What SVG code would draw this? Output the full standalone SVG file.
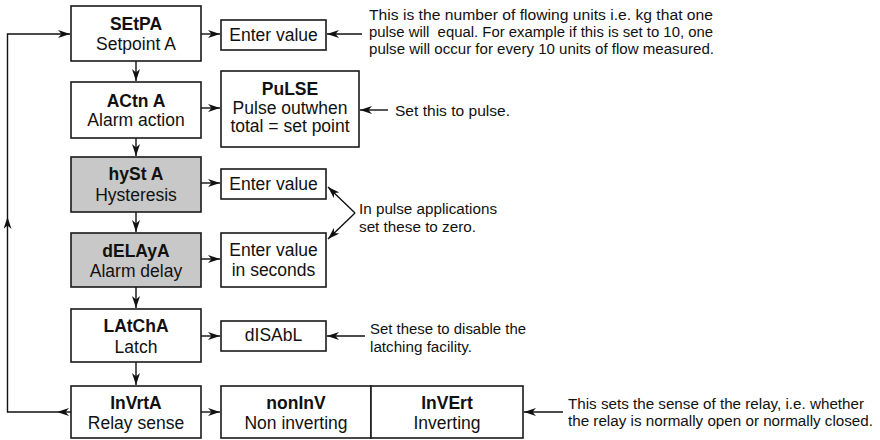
<svg xmlns="http://www.w3.org/2000/svg" width="880" height="440" viewBox="0 0 880 440">
  <style>
    .box { fill: #ffffff; stroke: #1a1a1a; stroke-width: 1.6; }
    .grey { fill: #c8c8c8; }
    .lbl { font-family: "Liberation Sans", Arial, Helvetica, sans-serif; font-size: 17.5px; fill: #111; text-anchor: middle; }
    .b { font-weight: bold; }
    .note { font-family: "Liberation Sans", Arial, Helvetica, sans-serif; font-size: 15.2px; fill: #111; }
    .con { fill: none; stroke: #111; stroke-width: 1.4; marker-end: url(#ah); }
  </style>
  <defs>
    <marker id="ah" viewBox="0 0 12 8" refX="12" refY="4" markerWidth="12" markerHeight="8" markerUnits="userSpaceOnUse" orient="auto">
      <path d="M0,0 L12,4 L0,8 L3.5,4 Z" fill="#111"/>
    </marker>
  </defs>
  <rect width="880" height="440" fill="#ffffff"/>

  <g id="connectors">
    <!-- vertical flow -->
    <path class="con" d="M136,61 V81"/>
    <path class="con" d="M136,138 V156"/>
    <path class="con" d="M136,212 V232"/>
    <path class="con" d="M136,287 V308"/>
    <path class="con" d="M136,362 V385"/>
    <!-- horizontal to options -->
    <path class="con" d="M201,34 H220"/>
    <path class="con" d="M201,108 H220"/>
    <path class="con" d="M201,183 H220"/>
    <path class="con" d="M201,259 H220"/>
    <path class="con" d="M201,336 H220"/>
    <path class="con" d="M201,412 H220"/>
    <!-- loop back -->
    <path class="con" d="M71,412 H57"/>
    <path class="con" d="M57,412 H7.5 V217"/>
    <path class="con" d="M7.5,217 V34 H70"/>
    <!-- annotation pointers -->
    <path class="con" d="M362,34 H327"/>
    <path class="con" d="M388,110 H360"/>
    <path class="con" d="M355,213 L328,187"/>
    <path class="con" d="M355,213 L328,239"/>
    <path class="con" d="M365,336 H327"/>
    <path class="con" d="M563,412 H524"/>
  </g>

  <g id="n-setpa">
    <rect class="box" x="71" y="6" width="130" height="55"/>
    <text class="lbl b" x="136" y="29.5">SEtPA</text>
    <text class="lbl" x="136" y="50">Setpoint A</text>
  </g>
  <g id="n-actna">
    <rect class="box" x="71" y="82" width="130" height="56"/>
    <text class="lbl b" x="136" y="106.5">ACtn A</text>
    <text class="lbl" x="136" y="126">Alarm action</text>
  </g>
  <g id="n-hysta">
    <rect class="box grey" x="71" y="157" width="130" height="55"/>
    <text class="lbl b" x="136" y="180">hySt A</text>
    <text class="lbl" x="136" y="201">Hysteresis</text>
  </g>
  <g id="n-delaya">
    <rect class="box grey" x="71" y="233" width="130" height="54"/>
    <text class="lbl b" x="136" y="256.5">dELAyA</text>
    <text class="lbl" x="136" y="276.5">Alarm delay</text>
  </g>
  <g id="n-latcha">
    <rect class="box" x="71" y="309" width="130" height="53"/>
    <text class="lbl b" x="136" y="331.5">LAtChA</text>
    <text class="lbl" x="136" y="352.5">Latch</text>
  </g>
  <g id="n-invrta">
    <rect class="box" x="71" y="386" width="130" height="52"/>
    <text class="lbl b" x="136" y="408.5">InVrtA</text>
    <text class="lbl" x="136" y="429">Relay sense</text>
  </g>

  <g id="n-enter1">
    <rect class="box" x="221" y="20" width="105" height="30"/>
    <text class="lbl" x="273.5" y="41">Enter value</text>
  </g>
  <g id="n-pulse">
    <rect class="box" x="221" y="71" width="138" height="76"/>
    <text class="lbl b" x="290" y="95">PuLSE</text>
    <text class="lbl" x="290" y="113.5">Pulse outwhen</text>
    <text class="lbl" x="290" y="132">total = set point</text>
  </g>
  <g id="n-enter2">
    <rect class="box" x="221" y="169" width="105" height="30"/>
    <text class="lbl" x="273.5" y="190">Enter value</text>
  </g>
  <g id="n-enter3">
    <rect class="box" x="221" y="233" width="105" height="54"/>
    <text class="lbl" x="273.5" y="256">Enter value</text>
    <text class="lbl" x="273.5" y="275.5">in seconds</text>
  </g>
  <g id="n-disabl">
    <rect class="box" x="221" y="321" width="105" height="30"/>
    <text class="lbl" x="273.5" y="341">dISAbL</text>
  </g>
  <g id="n-noninv">
    <rect class="box" x="221" y="386" width="150" height="52"/>
    <text class="lbl b" x="296" y="408.5">nonInV</text>
    <text class="lbl" x="296" y="429">Non inverting</text>
  </g>
  <g id="n-invert">
    <rect class="box" x="371" y="386" width="152" height="52"/>
    <text class="lbl b" x="447" y="408.5">InVErt</text>
    <text class="lbl" x="447" y="429">Inverting</text>
  </g>

  <g id="notes">
    <text class="note" x="369" y="19.5" textLength="344" lengthAdjust="spacingAndGlyphs">This is the number of flowing units i.e. kg that one</text>
    <text class="note" x="369" y="36.5" textLength="344" lengthAdjust="spacingAndGlyphs" xml:space="preserve" style="white-space:pre">pulse will  equal. For example if this is set to 10, one</text>
    <text class="note" x="369" y="53.5" textLength="345" lengthAdjust="spacingAndGlyphs">pulse will occur for every 10 units of flow measured.</text>
    <text class="note" x="395" y="116" textLength="115" lengthAdjust="spacingAndGlyphs">Set this to pulse.</text>
    <text class="note" x="359" y="214" textLength="138" lengthAdjust="spacingAndGlyphs">In pulse applications</text>
    <text class="note" x="359" y="231.5" textLength="117" lengthAdjust="spacingAndGlyphs">set these to zero.</text>
    <text class="note" x="370" y="334" textLength="156" lengthAdjust="spacingAndGlyphs">Set these to disable the</text>
    <text class="note" x="370" y="352" textLength="102" lengthAdjust="spacingAndGlyphs">latching facility.</text>
    <text class="note" x="568" y="408.5" textLength="296" lengthAdjust="spacingAndGlyphs">This sets the sense of the relay, i.e. whether</text>
    <text class="note" x="568" y="425.5" textLength="305" lengthAdjust="spacingAndGlyphs">the relay is normally open or normally closed.</text>
  </g>
</svg>
